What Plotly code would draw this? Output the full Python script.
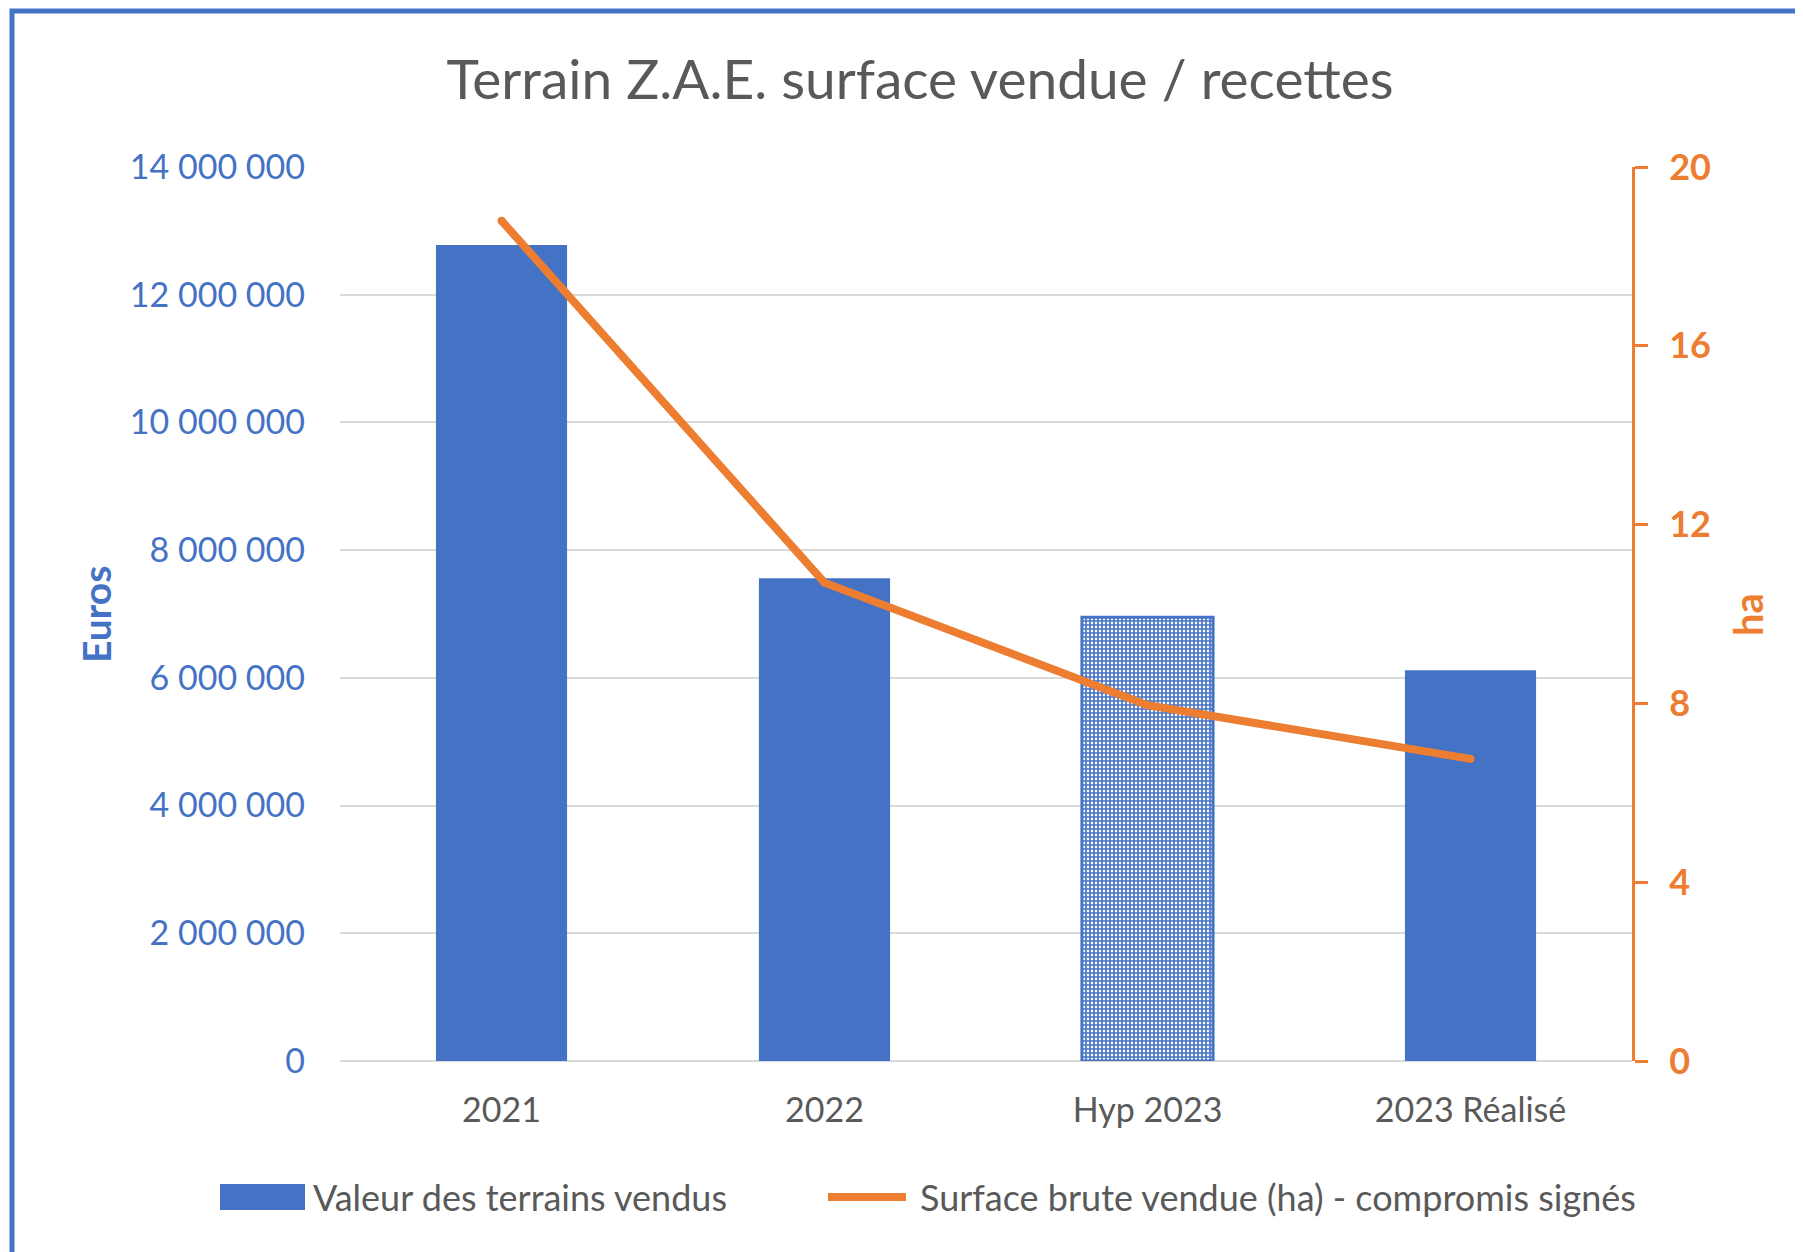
import plotly.graph_objects as go

categories = ["2021", "2022", "Hyp 2023", "2023 Réalisé"]
valeur_euros = [12780000, 7560000, 6950000, 6120000]
surface_ha = [18.8, 10.7, 7.96, 6.76]
bar_patterns = ["", "", "+", ""]
bar_name = "Valeur des terrains vendus"
line_name = "Surface brute vendue (ha) - compromis signés"
left_ticks = [0, 2000000, 4000000, 6000000, 8000000, 10000000, 12000000, 14000000]
right_ticks = [0, 4, 8, 12, 16, 20]

BLUE = "#4472C4"
ORANGE = "#ED7D31"
GREY = "#595959"
FONT = "Lato"

# page has an 8px body margin; positions below are measured on the screenshot
OFF = 8
W, H = 1803 - OFF, 1252 - OFF
L, R, T, B = 340 - OFF, 171, 167 - OFF, 191
pw, ph = W - L - R, H - T - B


def px(x):
    return (x - OFF - L) / pw


def py(y):
    return (H - B - (y - OFF)) / ph


fig = go.Figure()
fig.add_trace(go.Bar(
    x=categories, y=valeur_euros, name=bar_name,
    marker=dict(
        color=BLUE,
        line=dict(color=BLUE, width=[0, 0, 3, 0]),
        pattern=dict(shape=bar_patterns, fgcolor=BLUE, bgcolor="white",
                     size=4, solidity=0.65, fillmode="replace"),
    ),
    showlegend=False,
))
# small markers give the rounded joins/caps of the Excel line
fig.add_trace(go.Scatter(
    x=categories, y=surface_ha, name=line_name, yaxis="y2",
    mode="lines+markers", line=dict(color=ORANGE, width=8),
    marker=dict(color=ORANGE, size=8, line=dict(width=0)),
    showlegend=False,
))

fig.update_layout(
    width=W, height=H,
    margin=dict(l=L, r=R, t=T, b=B),
    plot_bgcolor="white", paper_bgcolor="white",
    separators=", ",
    bargap=0.594,
    font=dict(family=FONT, color=GREY, size=34),
    title=dict(text="Terrain Z.A.E. surface vendue / recettes",
               x=(920 - OFF) / W, y=1 - (80 - OFF) / H,
               xanchor="center", yanchor="middle",
               font=dict(family=FONT, size=55, color=GREY)),
    xaxis=dict(showgrid=False, showline=False, ticks="",
               tickfont=dict(size=34, color=GREY), ticklabelstandoff=26),
    yaxis=dict(range=[0, 14000000], tickvals=left_ticks, tickformat=",d",
               showgrid=True, gridcolor="#D9D9D9", gridwidth=2,
               zeroline=True, zerolinecolor="#D9D9D9", zerolinewidth=2,
               showline=False, ticks="",
               tickfont=dict(size=34, color=BLUE), ticklabelstandoff=34),
    yaxis2=dict(range=[0, 20], tickvals=right_ticks, overlaying="y", side="right",
                showgrid=False, zeroline=False,
                showline=True, linecolor=ORANGE, linewidth=3,
                ticks="outside", ticklen=13, tickwidth=3, tickcolor=ORANGE,
                tickfont=dict(size=36, color=ORANGE, weight="bold"),
                ticklabelstandoff=14),
)

# outer chart frame (cut off at right and bottom as in the source)
fig.add_shape(type="rect", xref="paper", yref="paper",
              x0=px(12), x1=px(1900), y0=py(1400), y1=py(11),
              line=dict(color=BLUE, width=5), layer="below")

# axis titles
fig.add_annotation(text="<b>Euros</b>", xref="paper", yref="paper",
                   x=px(96), y=py(615), xanchor="center", yanchor="middle",
                   textangle=-90, showarrow=False,
                   font=dict(size=39, color=BLUE, family=FONT))
fig.add_annotation(text="<b>ha</b>", xref="paper", yref="paper",
                   x=px(1748), y=py(615), xanchor="center", yanchor="middle",
                   textangle=-90, showarrow=False,
                   font=dict(size=40, color=ORANGE, family=FONT))

# legend drawn by hand to keep Excel-like wide keys
fig.add_shape(type="rect", xref="paper", yref="paper",
              x0=px(220), x1=px(305), y0=py(1210), y1=py(1184),
              fillcolor=BLUE, line=dict(width=0))
fig.add_annotation(text=bar_name, xref="paper", yref="paper",
                   x=px(311), y=py(1197), xanchor="left", yanchor="middle",
                   showarrow=False, font=dict(size=36, color=GREY, family=FONT))
fig.add_shape(type="line", xref="paper", yref="paper",
              x0=px(828), x1=px(906), y0=py(1197), y1=py(1197),
              line=dict(color=ORANGE, width=8))
fig.add_annotation(text=line_name, xref="paper", yref="paper",
                   x=px(918), y=py(1197), xanchor="left", yanchor="middle",
                   showarrow=False, font=dict(size=36, color=GREY, family=FONT))

fig.write_html("out.html")
